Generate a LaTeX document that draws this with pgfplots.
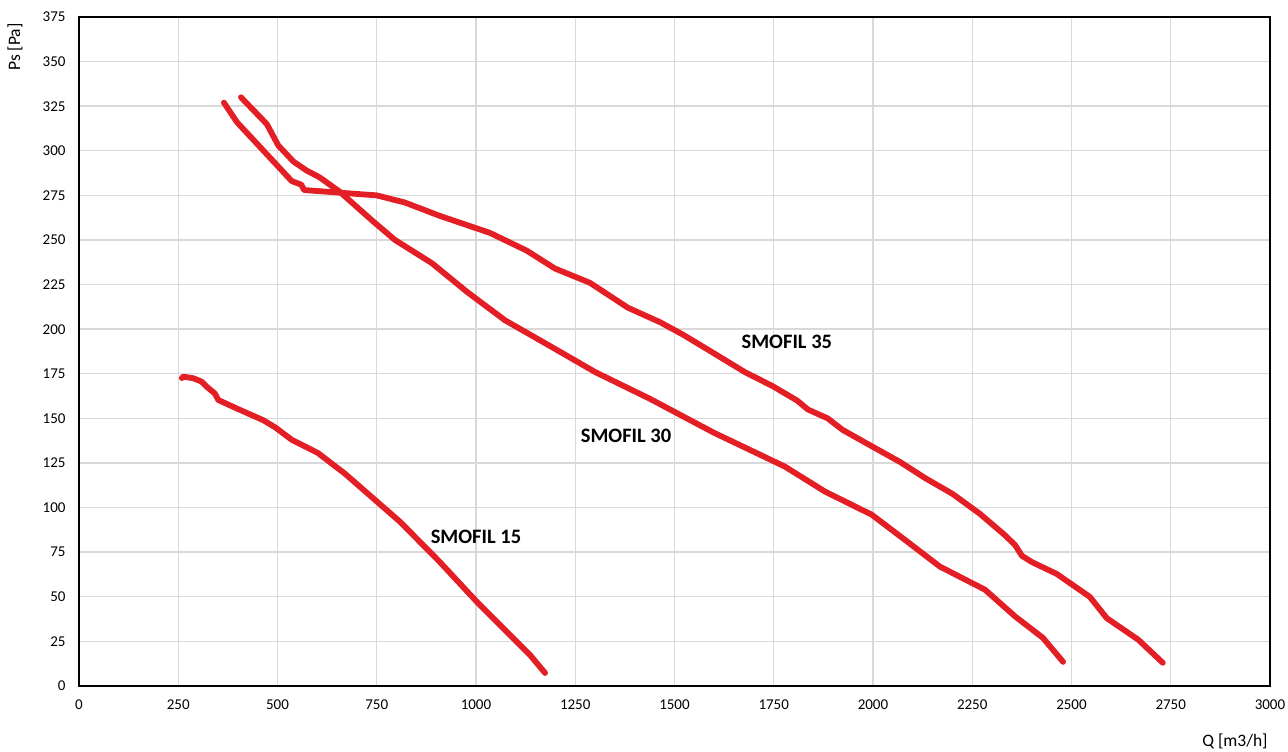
\documentclass[border=0pt]{standalone}
\usepackage{pgfplots}
\pgfplotsset{compat=1.18}
\usepackage{fontspec}
\setmainfont{Carlito}
\definecolor{curve}{RGB}{227,30,36}
\definecolor{gridc}{RGB}{217,217,217}
\tikzset{smo/.style={curve, line width=5.8pt, line join=round, line cap=round}}
\begin{document}
\begin{tikzpicture}
  \begin{axis}[name=ax,
               scale only axis,
               width=1191pt, height=669pt,
               xmin=0, xmax=3000,
               ymin=0, ymax=375,
               xtick={0,250,...,3000},
               ytick={0,25,...,375},
               grid=major,
               major grid style={gridc, line width=1.4pt},
               axis line style={black, line width=1.3pt},
               tick style={draw=none},
               tick label style={font=\fontsize{15}{18}\selectfont},
               /pgf/number format/assume math mode=true,
               /pgf/number format/1000 sep={},
               xticklabel style={yshift=-10pt},
               yticklabel style={xshift=-10pt},
               xlabel={Q [m3/h]},
               ylabel={Ps [Pa]},
               label style={font=\fontsize{17.5}{20}\selectfont},
               xlabel style={at={(axis description cs:0.9706,-0.0822)}, anchor=center},
               ylabel style={at={(axis description cs:-0.0537,0.955)}, anchor=center},
               clip=false]
    % SMOFIL 35
    \addplot[smo] coordinates {
      (365,327) (398,316) (536,283) (560,281) (567,278) (750,275)
      (821,271) (909,263.5) (1035,254) (1128,244) (1199,234) (1287,226)
      (1383,212) (1463,204) (1521,197) (1577,189.5) (1677,176) (1748,168)
      (1809,160) (1836,155) (1886,150) (1924,143.5) (1992,135) (2068,125.6)
      (2131,116.6) (2201,107.6) (2270,96.4) (2332,84.6) (2358,79) (2375,73)
      (2400,69.5) (2463,62.8) (2546,50) (2589,38) (2668,26) (2730,13)
    };
    % SMOFIL 30
    \addplot[smo] coordinates {
      (408,330) (473,315) (502,303) (540,294) (573,289) (607,285)
      (657,277) (738,261) (796,250) (889,237) (977,221) (1073,205)
      (1191,190) (1300,176) (1438,161) (1599,142) (1778,123) (1879,109)
      (1997,96) (2086,81) (2168,67) (2282,54) (2358,39) (2428,27) (2479,13.5)
    };
    % SMOFIL 15
    \addplot[smo] coordinates {
      (259,172.6) (263,173.4) (288,172.5) (309,170.6) (321.5,167.8) (342,164)
      (351,160.3) (397,155.6) (464,149) (494,145) (536,138) (602,130.6)
      (670,119) (809,92) (909,69.5) (1005,46.5) (1136,17.4) (1174,7.3)
    };
    \node[font=\fontsize{20.5}{24}\selectfont\bfseries] at (axis cs:1783,193) {SMOFIL 35};
    \node[font=\fontsize{20.5}{24}\selectfont\bfseries] at (axis cs:1378,140) {SMOFIL 30};
    \node[font=\fontsize{20.5}{24}\selectfont\bfseries] at (axis cs:1000,83.5) {SMOFIL 15};
  \end{axis}
  \pgfresetboundingbox
  \path (ax.south west) ++(-79pt,-66pt) rectangle ++(1288pt,752pt);
\end{tikzpicture}
\end{document}
